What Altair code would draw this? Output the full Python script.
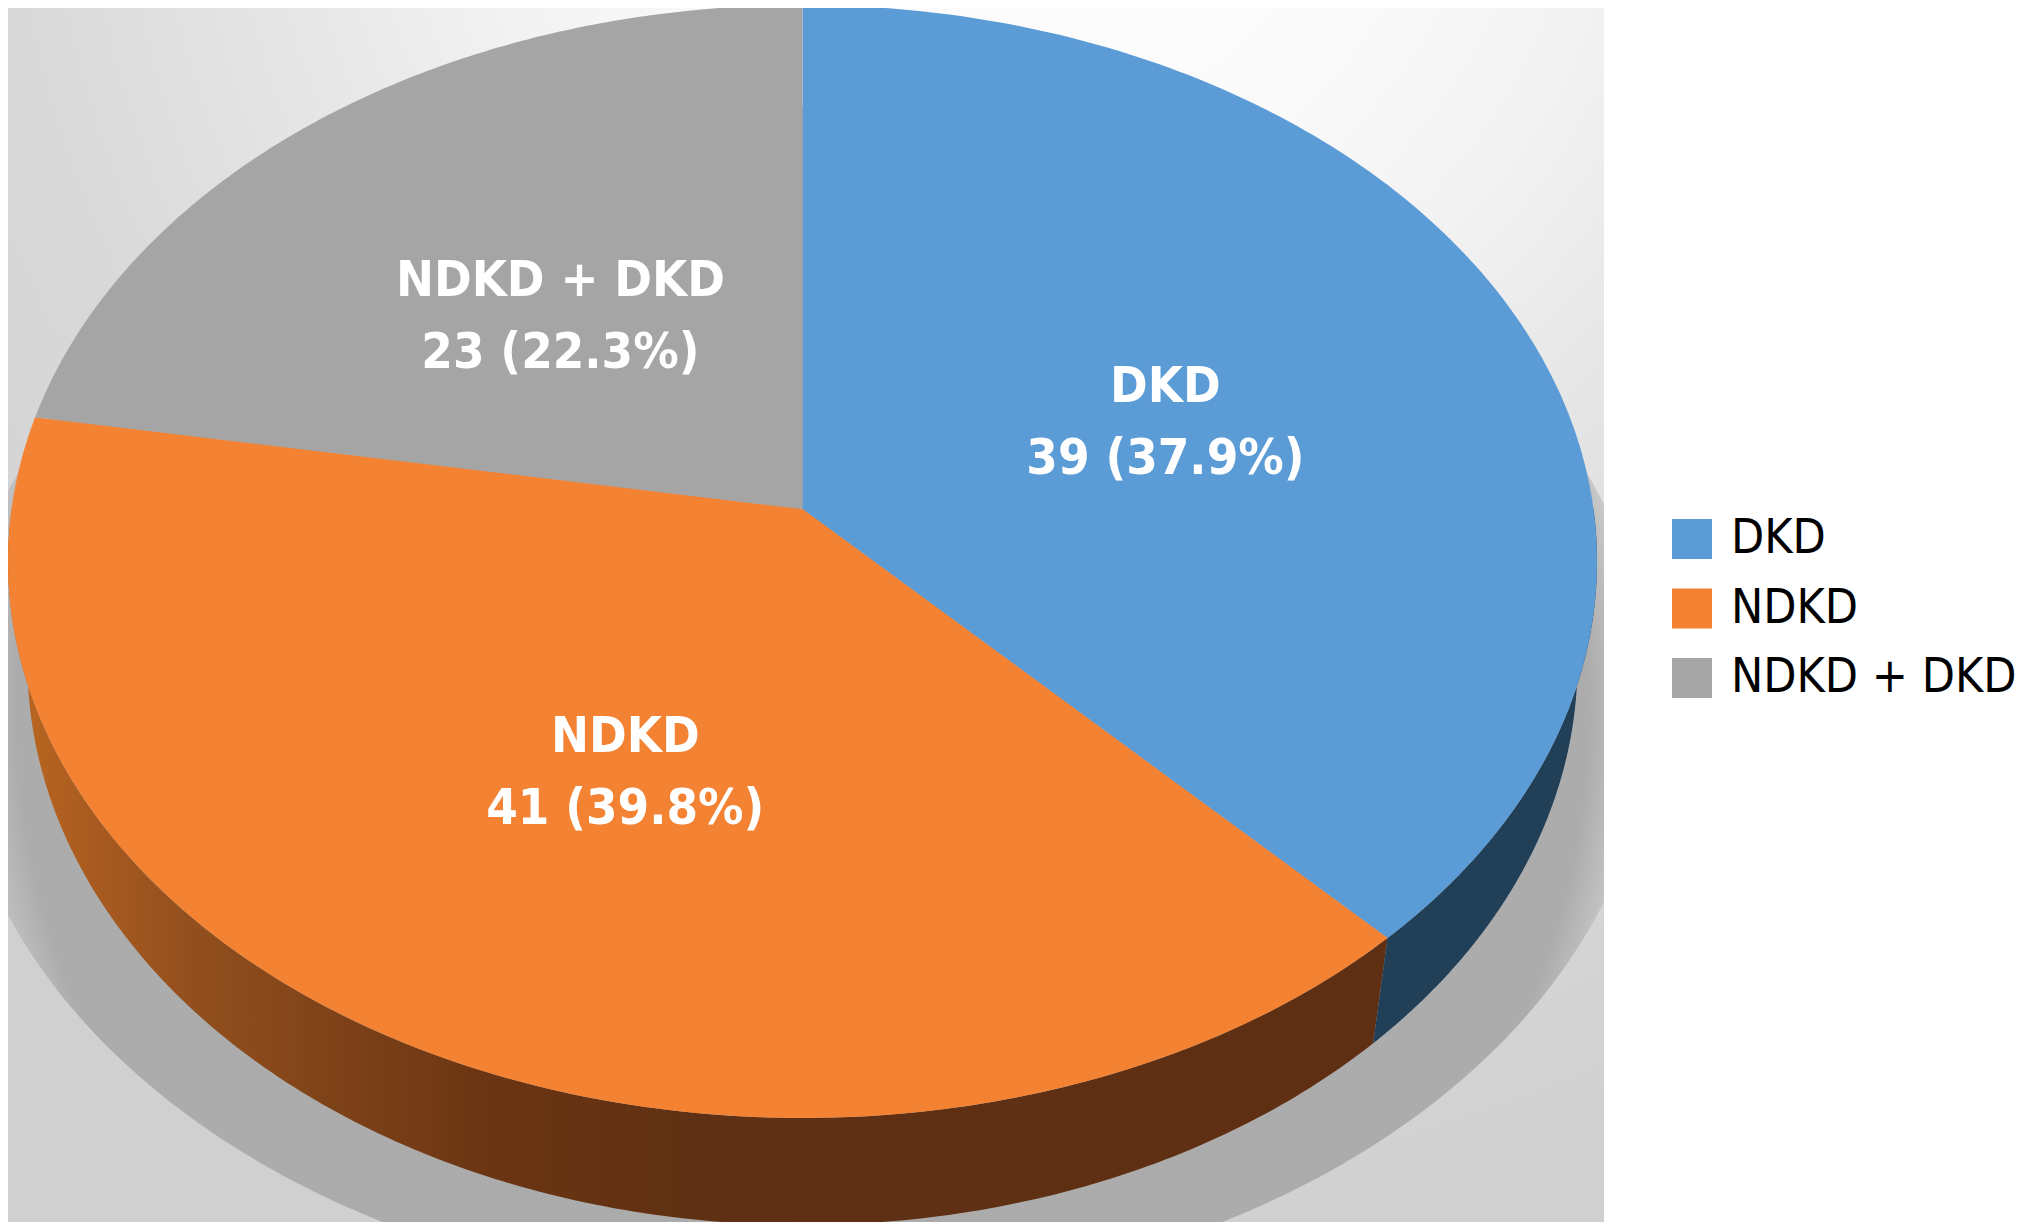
import numpy as np
import pandas as pd
import altair as alt

# ---- chart values ----
categories = ["DKD", "NDKD", "NDKD + DKD"]
counts = [39, 41, 23]
percents = [37.9, 39.8, 22.3]
slice_colors = ["#5B9BD6", "#F38233", "#A5A5A5"]

# ---- layout (page pixels) ----
W, H = 2015, 1214
OFF = 8
PAGE_END = 1604
CX, CY, RX, RY = 802.5, 561.5, 794.5, 556.5       # top face rim
LOW_CY, LOW_RX, LOW_RY = 663, 775, 562            # bottom rim of the wall
TILT = 0.0943                                      # perspective of the disc
LABEL_RADIUS = 0.5
LABEL_NUDGE = {"DKD": (2, 12), "NDKD": (17, 7), "NDKD + DKD": (4, 8)}
LINE_GAP = 72
SHADOW_CY, SHADOW_RX, SHADOW_RY = 703, 850, 597
FONT = "DejaVu Sans Condensed"


def disc(frac, r=1.0):
    t = 2 * np.pi * np.asarray(frac, dtype=float)
    xd, yd = r * np.sin(t), r * np.cos(t)
    d = 1 + TILT * yd
    return xd * np.sqrt(1 - TILT ** 2) / d, (yd + TILT) / d


def top(frac, r=1.0):
    xn, yn = disc(frac, r)
    return CX + RX * xn - OFF, CY - RY * yn - OFF


def low(frac):
    xn, yn = disc(frac)
    return CX + LOW_RX * xn - OFF, LOW_CY - LOW_RY * yn - OFF


total = sum(percents)
ends = np.cumsum(percents) / total
starts = np.concatenate([[0], ends[:-1]])

# top-face slices: apex, then the rim
rows = []
for cat, a, b in zip(categories, starts, ends):
    ax, ay = top(0.0, 0.0)
    rows.append(dict(cat=cat, i=0, x=float(ax), y=float(ay)))
    fr = np.linspace(a, b, 160)
    px, py = top(fr)
    for k, (u, v) in enumerate(zip(px, py)):
        rows.append(dict(cat=cat, i=k + 1, x=float(u), y=float(v)))
slices = pd.DataFrame(rows)


def wall(fa, fb):
    """Wall polygon: lower rim from fa to fb, then the top rim back."""
    fr = np.linspace(fa, fb, 200)
    lx, ly = low(fr)
    tx, ty = top(fr[::-1])
    xs = np.concatenate([lx, tx])
    ys = np.concatenate([ly, ty])
    return pd.DataFrame(dict(i=np.arange(len(xs)), x=xs, y=ys))


boundary = ends[0]
wall_blue = wall(0.25, boundary)
wall_orange = wall(boundary, 0.75)

# soft shadow ellipse under the pie
t = np.linspace(0, 1, 240)
shadow = pd.DataFrame(dict(
    i=np.arange(len(t)),
    x=CX - OFF + SHADOW_RX * np.sin(2 * np.pi * t),
    y=SHADOW_CY - OFF + SHADOW_RY * np.cos(2 * np.pi * t),
))

# labels
lab = []
for cat, n, p, a, b in zip(categories, counts, percents, starts, ends):
    lx, ly = top((a + b) / 2, LABEL_RADIUS)
    dx, dy = LABEL_NUDGE[cat]
    lab.append(dict(text=cat, x=float(lx) + dx, y=float(ly) + dy - LINE_GAP / 2 + 18))
    lab.append(dict(text=f"{n} ({p}%)", x=float(lx) + dx, y=float(ly) + dy + LINE_GAP / 2 + 18))
labels = pd.DataFrame(lab)

xs = alt.X("x:Q", scale=alt.Scale(domain=[0, W], nice=False, zero=False), axis=None)
ys = alt.Y("y:Q", scale=alt.Scale(domain=[0, H], nice=False, zero=False, reverse=True), axis=None)
order = alt.Order("i:Q")


def stop(offset, color):
    return alt.GradientStop(offset=offset, color=color)


bg_df = pd.DataFrame(dict(x=[0.0], x2=[PAGE_END - OFF], y=[0.0], y2=[float(H)]))
white_df = pd.DataFrame(dict(x=[PAGE_END - OFF], x2=[float(W)], y=[0.0], y2=[float(H)]))

bg = alt.Chart(bg_df).mark_rect(
    fill=alt.RadialGradient(
        gradient="radial", x1=0.65, y1=0, r1=0, x2=0.65, y2=0, r2=0.9,
        stops=[stop(0, "#ffffff"), stop(0.25, "#fafafa"), stop(0.4, "#f2f2f2"),
               stop(0.52, "#e8e8e8"), stop(0.72, "#d9d9d9"), stop(1, "#d0d0d0")],
    )
).encode(xs, alt.X2("x2:Q"), ys, alt.Y2("y2:Q"))

shadow_layer = alt.Chart(shadow).mark_line(
    interpolate="linear-closed", stroke="transparent", clip=True,
    fill=alt.RadialGradient(
        gradient="radial", x1=0.5, y1=0.5, r1=0, x2=0.5, y2=0.5, r2=0.5,
        stops=[stop(0, "rgba(170,170,170,1)"), stop(0.925, "rgba(172,172,172,1)"),
               stop(0.965, "rgba(172,172,172,0.5)"), stop(1, "rgba(172,172,172,0)")],
    ),
).encode(xs, ys, order)

white = alt.Chart(white_df).mark_rect(fill="#ffffff").encode(xs, alt.X2("x2:Q"), ys, alt.Y2("y2:Q"))

wall_o = alt.Chart(wall_orange).mark_line(
    interpolate="linear-closed", stroke="transparent", clip=True,
    fill=alt.LinearGradient(
        gradient="linear", x1=1, y1=0, x2=0, y2=0,
        stops=[stop(0, "#5E2F12"), stop(0.5, "#5F3013"), stop(0.652, "#6B3513"),
               stop(0.763, "#7E4219"), stop(0.873, "#94501E"), stop(0.946, "#AB5C20"),
               stop(1, "#BC681F")],
    ),
).encode(xs, ys, order)

wall_b = alt.Chart(wall_blue).mark_line(
    interpolate="linear-closed", stroke="transparent", fill="#223F58"
).encode(xs, ys, order)

top_face = alt.Chart(slices).mark_line(
    interpolate="linear-closed", stroke="transparent", clip=True
).encode(
    xs, ys, order,
    fill=alt.Fill(
        "cat:N",
        scale=alt.Scale(domain=categories, range=slice_colors),
        legend=alt.Legend(
            title=None, orient="none", legendX=1660, legendY=507,
            symbolType="square", symbolSize=1600, symbolStrokeWidth=0,
            symbolOpacity=1, labelFont=FONT, labelFontSize=48, labelColor="#000000",
            labelOffset=15, rowPadding=21.5, labelLimit=400, padding=0,
        ),
    ),
)

text = alt.Chart(labels).mark_text(
    font=FONT, fontSize=50.5, fontWeight="bold", color="#ffffff", baseline="alphabetic", align="center"
).encode(xs, ys, text="text:N")

chart = alt.layer(bg, shadow_layer, white, wall_o, wall_b, top_face, text).properties(
    width=W, height=H, padding=0, autosize=alt.AutoSizeParams(type="none")
).configure_view(stroke=None)

chart.save("out.html", embed_options={"renderer": "svg", "actions": False})
